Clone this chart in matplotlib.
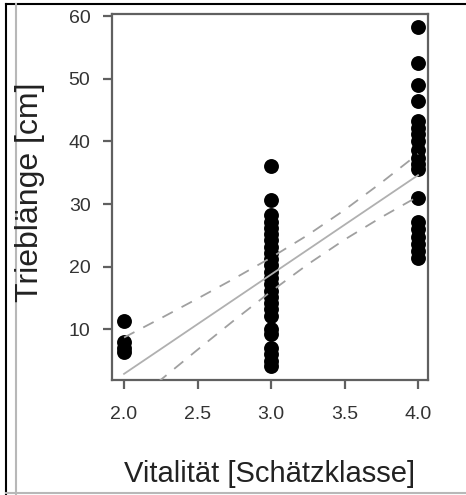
import numpy as np
import matplotlib
matplotlib.use("Agg")
import matplotlib.pyplot as plt
from matplotlib.lines import Line2D

plt.rcParams['font.family'] = ['Liberation Sans', 'DejaVu Sans']

# --- Daten ---
vit_2 = [11.3, 8.0, 7.0, 6.4]
vit_3 = [36.0, 30.6, 28.2, 27.2, 26.2, 25.2, 24.2, 23.2, 22.2, 21.2, 20.2,
         19.2, 18.2, 17.2, 16.2, 15.2, 14.2, 13.2, 12.2, 10.0, 9.2, 7.0,
         6.0, 5.0, 4.2]
vit_4 = [58.2, 52.5, 49.0, 46.4, 43.2, 42.2, 41.2, 40.0, 38.6, 37.4, 36.4,
         35.6, 31.0, 27.2, 26.0, 24.8, 23.6, 22.5, 21.4]

# Regressionsgerade und Konfidenzband
fit_x = [2.0, 2.25, 2.5, 2.75, 3.0, 3.25, 3.5, 3.75, 4.0]
fit_y = [2.90, 6.86, 10.83, 14.79, 18.75, 22.71, 26.68, 30.64, 34.60]
ci_upper = [8.70, 11.77, 14.91, 18.11, 21.45, 25.05, 29.05, 33.40, 38.00]
ci_lower = [-2.90, 1.95, 6.75, 11.47, 16.05, 20.37, 24.31, 27.88, 31.20]

x_ticks = [2.0, 2.5, 3.0, 3.5, 4.0]
y_ticks = [10, 20, 30, 40, 50, 60]

fig = plt.figure(figsize=(4.66, 4.95), dpi=100)
ax = fig.add_axes([112 / 466, 1 - 380 / 495, 316 / 466, 366 / 495])

# Punkte
for xv, vals in [(2.0, vit_2), (3.0, vit_3), (4.0, vit_4)]:
    ax.scatter([xv] * len(vals), vals, s=115, color='black', linewidths=0, zorder=2)

# Linien (ueber den Punkten)
ax.plot(fit_x, fit_y, color='#b0b0b0', linewidth=1.3, zorder=3)
ax.plot(fit_x, ci_upper, color='#a0a0a0', linewidth=1.3,
        linestyle=(0, (6.5, 5.5)), zorder=3)
ax.plot(fit_x, ci_lower, color='#a0a0a0', linewidth=1.3,
        linestyle=(0, (6.5, 5.5)), zorder=3)

ax.set_xlim(1.918, 4.068)
ax.set_ylim(1.92, 60.32)
ax.set_xticks(x_ticks)
ax.set_xticklabels([f"{v:.1f}" for v in x_ticks])
ax.set_yticks(y_ticks)

for sp in ax.spines.values():
    sp.set_color('#606060')
    sp.set_linewidth(1.6)
ax.tick_params(axis='both', colors='#606060', width=1.6, length=6.5,
               labelsize=14, labelcolor='#333333')
ax.tick_params(axis='x', pad=12)
ax.tick_params(axis='y', pad=9)

# Achsentitel
fig.text(270 / 466, 1 - 474 / 495, "Vitalität [Schätzklasse]", fontsize=21,
         color='#222222', ha='center', va='center')
fig.text(30 / 466, 1 - 192 / 495, "Trieblänge [cm]", fontsize=23,
         color='#222222', ha='center', va='center', rotation=90)

# Rahmen des Bildausschnitts
fig.add_artist(Line2D([6 / 466, 1], [1 - 4 / 495] * 2, color='black', linewidth=1.5))
fig.add_artist(Line2D([6 / 466] * 2, [0, 1 - 4 / 495], color='black', linewidth=1.5))
fig.add_artist(Line2D([16 / 466] * 2, [0, 1 - 4 / 495], color='#b8b8b8', linewidth=1.5))
fig.add_artist(Line2D([6 / 466, 1], [1 - 493 / 495] * 2, color='#b8b8b8', linewidth=1.5))

fig.savefig("out.png", dpi=100)
